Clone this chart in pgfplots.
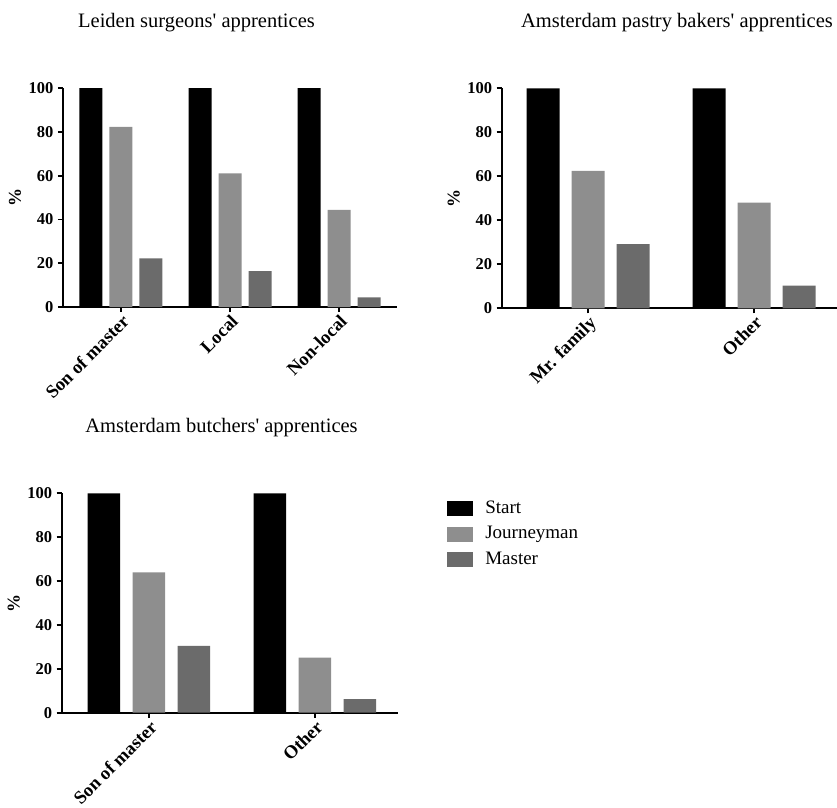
\documentclass[border=0pt]{standalone}
\usepackage{fontspec}
\setmainfont{Liberation Serif}
\usepackage{pgfplots}
\pgfplotsset{compat=1.18}
\definecolor{startc}{RGB}{0,0,0}
\definecolor{journc}{RGB}{142,142,142}
\definecolor{mastc}{RGB}{107,107,107}
\pgfplotsset{
 panel/.style={
  scale only axis, anchor=south west, clip=false,
  axis lines=left, axis line style={-, line width=1.8pt, black},
  ymin=0, ymax=100, ytick={0,20,...,100}, minor tick num=0,
  tick align=outside, major tick length=5pt, tick style={line width=1.8pt, black},
  /pgf/number format/assume math mode=true,
  yticklabel style={font=\fontsize{16.5}{16.5}\selectfont\bfseries, xshift=-1pt},
  xticklabel style={font=\fontsize{18.5}{18.5}\selectfont\bfseries, rotate=45, anchor=north east, inner sep=1pt},
  ylabel={\%},
  every axis y label/.style={at={(axis description cs:0,0.5)}, xshift=-48pt, rotate=90, anchor=center, font=\fontsize{18}{18}\selectfont\bfseries},
  ybar, enlarge x limits=false,
 }}
\begin{document}
\begin{tikzpicture}
\useasboundingbox (0pt,0pt) rectangle (837pt,-807pt);
% Panel 1
\begin{axis}[panel, at={(63pt,-307pt)}, width=334pt, height=219pt,
  xmin=-0.532, xmax=2.532, bar width=23pt, ybar=7pt,
  xtick={0,1,2}, xticklabels={Son of master, Local, Non-local}]
\addplot[fill=startc, draw=none] coordinates {(0,100) (1,100) (2,100)};
\addplot[fill=journc, draw=none] coordinates {(0,82.3) (1,61) (2,44.3)};
\addplot[fill=mastc, draw=none] coordinates {(0,22.2) (1,16.4) (2,4.4)};
\end{axis}
% Panel 2
\begin{axis}[panel, at={(501.7pt,-308.3pt)}, width=338.6pt, height=220pt,
  xmin=-0.52, xmax=1.52, bar width=33pt, ybar=12pt,
  xtick={0,1}, xticklabels={Mr. family, Other}]
\addplot[fill=startc, draw=none] coordinates {(0,100) (1,100)};
\addplot[fill=journc, draw=none] coordinates {(0,62.5) (1,48)};
\addplot[fill=mastc, draw=none] coordinates {(0,29.2) (1,10.3)};
\end{axis}
% Panel 3
\begin{axis}[panel, at={(61.7pt,-712.7pt)}, width=336pt, height=219.4pt,
  xmin=-0.526, xmax=1.5, bar width=32.5pt, ybar=12.5pt,
  xtick={0,1}, xticklabels={Son of master, Other},
  legend image code/.code={\fill[#1] (0pt,-7.5pt) rectangle (26pt,7.5pt);},
  legend style={at={(1.147,0.969)}, anchor=north west, draw=none, fill=none,
    inner sep=0pt, font=\fontsize{19}{19}\selectfont, row sep=8.5pt,
    nodes={text height=13pt, text depth=4pt, inner sep=0pt},
    /tikz/every odd column/.append style={column sep=12pt}},
  legend cell align=left]
\addplot[fill=startc, draw=none] coordinates {(0,100) (1,100)};
\addplot[fill=journc, draw=none] coordinates {(0,64) (1,25.1)};
\addplot[fill=mastc, draw=none] coordinates {(0,30.5) (1,6.2)};
\legend{Start, Journeyman, Master}
\end{axis}
\node[anchor=base, font=\fontsize{20.5}{20.5}\selectfont, inner sep=0pt] at (196.5pt,-27pt) {Leiden surgeons\textquotesingle{} apprentices};
\node[anchor=base, font=\fontsize{20.5}{20.5}\selectfont, inner sep=0pt] at (677pt,-27pt) {Amsterdam pastry bakers\textquotesingle{} apprentices};
\node[anchor=base, font=\fontsize{20.5}{20.5}\selectfont, inner sep=0pt] at (221.5pt,-432pt) {Amsterdam butchers\textquotesingle{} apprentices};
\end{tikzpicture}
\end{document}
